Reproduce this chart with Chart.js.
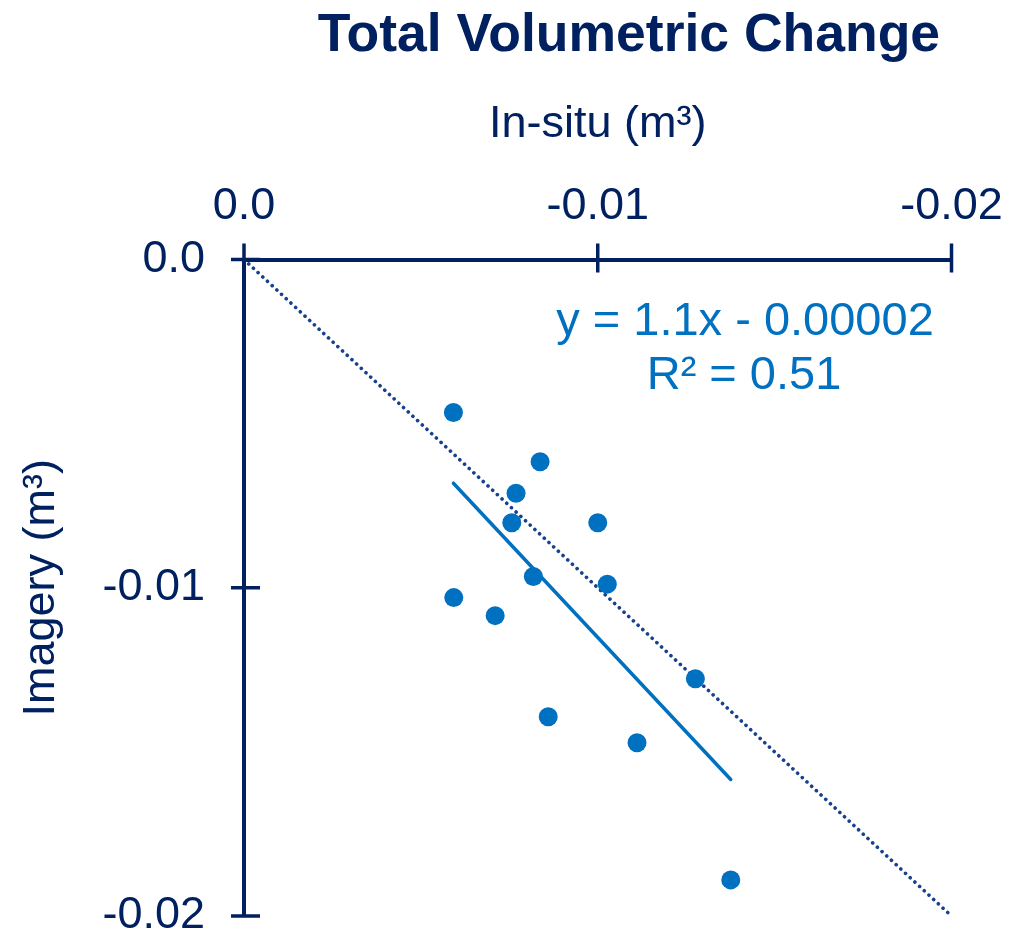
<!DOCTYPE html>
<html>
<head>
<meta charset="utf-8">
<title>Total Volumetric Change</title>
<script src="https://cdn.jsdelivr.net/npm/chart.js@4"></script>
<style>
  html, body { margin: 0; padding: 0; background: #fff; }
  canvas { display: block; }
</style>
</head>
<body>
<canvas id="chart" width="1019" height="931"></canvas>
<script>
// measured volumes (m3), in-situ vs imagery
const inSitu  = [-0.00592, -0.00837, -0.00769, -0.00757, -0.01000, -0.00818, -0.01027, -0.00593, -0.00710, -0.01276, -0.00860, -0.01111, -0.01376];
const imagery = [-0.00466, -0.00616, -0.00712, -0.00802, -0.00802, -0.00966, -0.00989, -0.01030, -0.01085, -0.01277, -0.01393, -0.01472, -0.01890];

// 1:1 reference line
const oneToOneX = [0, -0.02];
const oneToOneY = [0, -0.02];

const tickValues = [0, -0.01, -0.02];
const tickLabels = ['0.0', '-0.01', '-0.02'];

const chartTitle = 'Total Volumetric Change';
const xTitle = 'In-situ (m³)';
const yTitle = 'Imagery (m³)';
const equationLines = ['y = 1.1x - 0.00002', 'R² = 0.51'];

const navy = '#002060';
const blue = '#0070C0';
const family = "'Liberation Sans', Arial, sans-serif";

// least-squares trend line over the range of the in-situ values
const n = inSitu.length;
const meanX = inSitu.reduce((a, b) => a + b, 0) / n;
const meanY = imagery.reduce((a, b) => a + b, 0) / n;
let sxy = 0, sxx = 0;
for (let i = 0; i < n; i++) {
    sxy += (inSitu[i] - meanX) * (imagery[i] - meanY);
    sxx += (inSitu[i] - meanX) ** 2;
}
const slope = sxy / sxx;
const intercept = meanY - slope * meanX;
const trend = [Math.max(...inSitu), Math.min(...inSitu)].map(x => ({ x: x, y: slope * x + intercept }));

const points = inSitu.map((x, i) => ({ x: x, y: imagery[i] }));
const oneToOne = oneToOneX.map((x, i) => ({ x: x, y: oneToOneY[i] }));

const fixedTicks = scale => {
    scale.ticks = tickValues.map(v => ({ value: v }));
};
const tickText = value => tickLabels[tickValues.indexOf(value)];

// tick marks that cross the axis line on both sides
const crossTicks = {
    id: 'crossTicks',
    afterDraw(chart) {
        const ctx = chart.ctx;
        const area = chart.chartArea;
        const xs = chart.scales.x, ys = chart.scales.y;
        ctx.save();
        ctx.strokeStyle = navy;
        ctx.lineWidth = 3.5;
        ctx.beginPath();
        tickValues.forEach(v => {
            const px = xs.getPixelForValue(v);
            ctx.moveTo(px, area.top - 16);
            ctx.lineTo(px, area.top + 13);
            const py = ys.getPixelForValue(v);
            ctx.moveTo(area.left - 13, py);
            ctx.lineTo(area.left + 16, py);
        });
        ctx.stroke();
        ctx.restore();
    }
};

// chart title and the trend line equation
const textLayer = {
    id: 'textLayer',
    afterDraw(chart) {
        const ctx = chart.ctx;
        ctx.save();
        ctx.textAlign = 'center';
        ctx.textBaseline = 'alphabetic';
        ctx.fillStyle = navy;
        ctx.font = 'bold 53.5px ' + family;
        ctx.fillText(chartTitle, 629, 51);
        ctx.fillStyle = blue;
        ctx.font = '47px ' + family;
        ctx.fillText(equationLines[0], 745, 335);
        ctx.fillText(equationLines[1], 744, 389);
        ctx.restore();
    }
};

Chart.defaults.font.family = family;
Chart.defaults.color = navy;

const ctx = document.getElementById('chart').getContext('2d');
const chart = new Chart(ctx, {
    type: 'scatter',
    data: {
        datasets: [
            {
                label: 'Volumes',
                data: points,
                backgroundColor: blue,
                borderWidth: 0,
                pointRadius: 9.5,
                pointHoverRadius: 9.5,
                order: 0
            },
            {
                label: 'Linear fit',
                data: trend,
                showLine: true,
                borderColor: blue,
                borderWidth: 3.5,
                borderCapStyle: 'round',
                pointRadius: 0,
                order: 1
            },
            {
                label: '1:1',
                data: oneToOne,
                showLine: true,
                borderColor: '#17418F',
                borderWidth: 3.6,
                borderDash: [0.1, 6.3],
                borderCapStyle: 'round',
                pointRadius: 0,
                order: 2
            }
        ]
    },
    options: {
        responsive: false,
        devicePixelRatio: 1,
        animation: false,
        layout: {
            padding: { top: 67, right: 67.5, bottom: 15, left: 0 }
        },
        plugins: {
            legend: { display: false },
            title: { display: false },
            tooltip: { enabled: false }
        },
        scales: {
            x: {
                type: 'linear',
                position: 'top',
                reverse: true,
                min: -0.02,
                max: 0,
                afterBuildTicks: fixedTicks,
                afterFit: scale => {
                    scale.height = 192.5;
                    scale.paddingLeft = 0;
                    scale.paddingRight = 0;
                },
                grid: { drawOnChartArea: false, drawTicks: false },
                border: { display: true, color: navy, width: 4 },
                ticks: {
                    padding: 26,
                    color: navy,
                    font: { size: 45 },
                    callback: tickText
                },
                title: {
                    display: true,
                    text: xTitle,
                    color: navy,
                    font: { size: 45 },
                    padding: { top: 31, bottom: 0 }
                }
            },
            y: {
                type: 'linear',
                position: 'left',
                min: -0.02,
                max: 0,
                afterBuildTicks: fixedTicks,
                afterFit: scale => {
                    scale.width = 244;
                    scale.paddingTop = 0;
                    scale.paddingBottom = 0;
                },
                grid: { drawOnChartArea: false, drawTicks: false },
                border: { display: true, color: navy, width: 4 },
                ticks: {
                    padding: 39,
                    color: navy,
                    font: { size: 45 },
                    callback: tickText
                },
                title: {
                    display: true,
                    text: yTitle,
                    color: navy,
                    font: { size: 45 },
                    padding: { top: 15, bottom: 0 }
                }
            }
        }
    },
    plugins: [crossTicks, textLayer]
});
</script>
</body>
</html>
